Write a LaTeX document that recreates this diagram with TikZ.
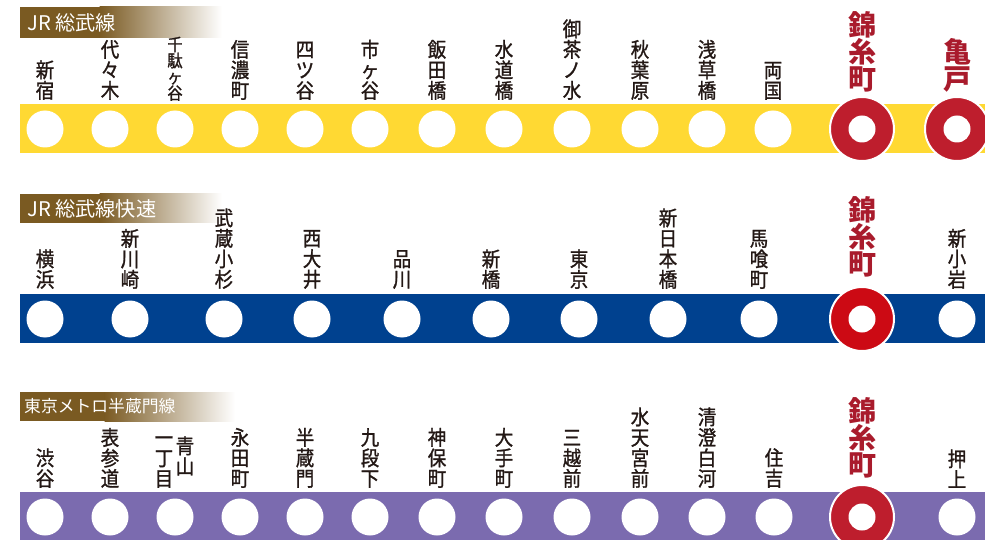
\documentclass[tikz,border=0pt]{standalone}
\usepackage{fontspec}
\newfontfamily\jp[FakeBold=1.2,FakeStretch=0.9]{Noto Sans CJK JP}
\newfontfamily\jpt{Noto Sans CJK JP}
\definecolor{yel}{HTML}{FFD933}
\definecolor{blu}{HTML}{00418F}
\definecolor{pur}{HTML}{7B6BAF}
\definecolor{brn}{HTML}{7A5A22}
\definecolor{redc}{HTML}{BE1E2D}
\definecolor{redc2}{HTML}{CC0A14}
\definecolor{redt}{HTML}{A91B2C}
\definecolor{ink}{HTML}{231815}
\begin{document}
\begin{tikzpicture}[x=1pt,y=-1pt,
  stn/.style={circle,fill=white,minimum size=37pt,inner sep=0pt},
  hub/.style={circle,fill=#1,draw=white,line width=2pt,minimum size=64pt,inner sep=0pt},
  hubin/.style={circle,fill=white,minimum size=27pt,inner sep=0pt},
  lbl/.style={font=\jp\fontsize{20.5}{20.5}\selectfont,text=ink,align=center,inner sep=0pt,anchor=south},
  rlbl/.style={font=\jpt\bfseries\fontsize{28}{27}\selectfont,text=redt,align=center,inner sep=0pt,anchor=south},
  ttl/.style={font=\jpt\fontsize{20.2}{20}\selectfont,text=white,anchor=west,inner sep=0pt}]
\useasboundingbox (0,0) rectangle (985,540);
\clip (0,0) rectangle (985,540);
\fill[white] (0,0) rectangle (985,540);

% ---------- Row 1: JR Sobu line ----------
\fill[brn] (20,7) rectangle (100,38);
\shade[left color=brn,right color=white] (99.5,7) rectangle (222,38);
\node[ttl] (t1) at (27,22.5) {JR 総武線};
\fill[yel] (20,104) rectangle (985,153);
\foreach \x/\t [count=\i] in {45/新\\宿,110/代\\々\\木,240/信\\濃\\町,305/四\\ツ\\谷,370/市\\ヶ\\谷,437/飯\\田\\橋,504/水\\道\\橋,572/御\\茶\\ノ\\水,640/秋\\葉\\原,707/浅\\草\\橋,773/両\\国}{
  \node[stn] (a\i) at (\x,129) {};
  \node[lbl] (la\i) at (\x,100) {\t};
}
\node[stn] (a12) at (175,129) {};
\node[lbl,font=\jp\fontsize{17}{16.2}\selectfont] (la12) at (175,101) {千\\駄\\ヶ\\谷};
\node[hub=redc] (a13) at (862,129) {};
\node[hubin] (a13i) at (a13) {};
\node[rlbl] (la13) at (862,92) {錦\\糸\\町};
\node[hub=redc] (a14) at (957,129) {};
\node[hubin] (a14i) at (a14) {};
\node[rlbl] (la14) at (957,93) {亀\\戸};

% ---------- Row 2: JR Sobu rapid ----------
\fill[brn] (20,194) rectangle (100,223);
\shade[left color=brn,right color=white] (99.5,194) rectangle (222,223);
\node[ttl] (t2) at (27,208.5) {JR 総武線快速};
\fill[blu] (20,294) rectangle (985,343);
\foreach \x/\t [count=\i] in {45/横\\浜,130/新\\川\\崎,224/武\\蔵\\小\\杉,312/西\\大\\井,402/品\\川,491/新\\橋,579/東\\京,668/新\\日\\本\\橋,759/馬\\喰\\町,957/新\\小\\岩}{
  \node[stn] (b\i) at (\x,319) {};
  \node[lbl] (lb\i) at (\x,289) {\t};
}
\node[hub=redc2] (b11) at (862,319) {};
\node[hubin] (b11i) at (b11) {};
\node[rlbl] (lb11) at (862,277) {錦\\糸\\町};

% ---------- Row 3: Tokyo Metro Hanzomon line ----------
\fill[brn] (20,392) rectangle (105,421);
\shade[left color=brn,right color=white] (104.5,392) rectangle (235,421);
\node[ttl,font=\jpt\fontsize{16.8}{17}\selectfont] (t3) at (24,406.5) {東京メトロ半蔵門線};
\fill[pur] (20,492) rectangle (985,541);
\foreach \x/\t [count=\i] in {45/渋\\谷,110/表\\参\\道,240/永\\田\\町,305/半\\蔵\\門,370/九\\段\\下,437/神\\保\\町,504/大\\手\\町,572/三\\越\\前,640/水\\天\\宮\\前,707/清\\澄\\白\\河,774/住\\吉,957/押\\上}{
  \node[stn] (c\i) at (\x,517) {};
  \node[lbl] (lc\i) at (\x,488) {\t};
}
\node[stn] (c13) at (175,517) {};
\node[lbl] (lc13a) at (164,488) {一\\丁\\目};
\coordinate (c13top) at (185,0 |- lc13a.north);
\node[lbl,anchor=north] (lc13b) at (c13top) {青\\山};
\node[hub=redc] (c14) at (862,517) {};
\node[hubin] (c14i) at (c14) {};
\node[rlbl] (lc14) at (862,478) {錦\\糸\\町};
\end{tikzpicture}
\end{document}
